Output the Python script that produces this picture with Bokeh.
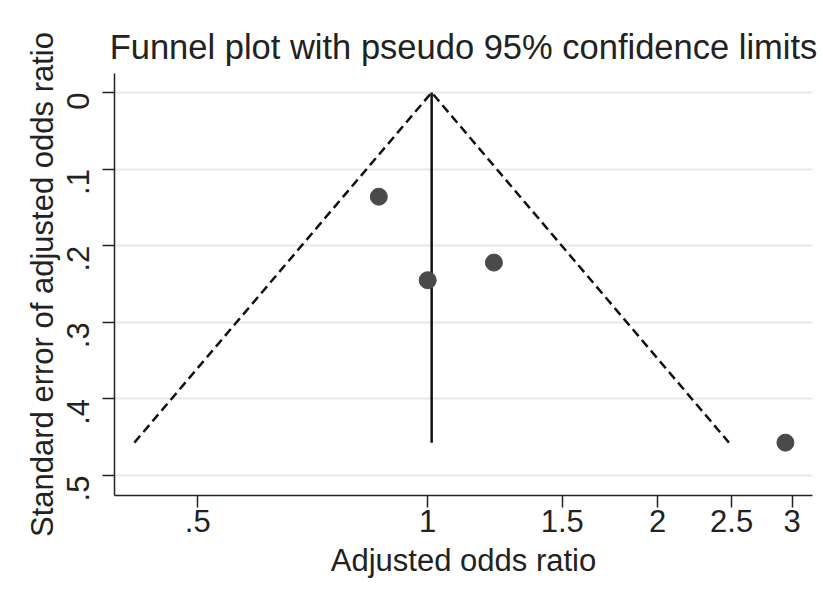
import math
from bokeh.plotting import figure
from bokeh.models import Range1d, FixedTicker
from bokeh.embed import file_html
from bokeh.resources import INLINE

# Study estimates
odds_ratio = [0.863, 1.0, 1.221, 2.94]
std_error = [0.136, 0.245, 0.222, 0.457]

# Pooled estimate line and pseudo 95% limits
pooled_or = [1.012, 1.012]
pooled_se = [0.0, 0.457]
funnel_or = [0.413, 1.012, 2.48]
funnel_se = [0.457, 0.0, 0.457]

x_ticks = [0.5, 1, 1.5, 2, 2.5, 3]
x_labels = [".5", "1", "1.5", "2", "2.5", "3"]
y_ticks = [0.0, 0.1, 0.2, 0.3, 0.4, 0.5]
y_labels = ["0", ".1", ".2", ".3", ".4", ".5"]

FONT = "Liberation Sans"
TXT = "#222222"

p = figure(width=823, height=593, output_backend="svg", toolbar_location=None,
           x_axis_type="log",
           x_range=Range1d(0.389, 3.19), y_range=Range1d(0.526, -0.0248),
           title="Funnel plot with pseudo 95% confidence limits")

p.min_border_left = 114
p.min_border_right = 11
p.min_border_top = 73
p.min_border_bottom = 98
p.background_fill_color = "white"
p.border_fill_color = "white"
p.outline_line_color = None

p.title.text_font = FONT
p.title.text_font_size = "34.5px"
p.title.text_font_style = "normal"
p.title.text_color = TXT
p.title.align = "center"
p.title.offset = 0
p.title.standoff = 15

# grid
p.xgrid.grid_line_color = None
p.ygrid.grid_line_color = "#e8e8e8"
p.ygrid.grid_line_width = 2

for ax in (p.xaxis[0], p.yaxis[0]):
    ax.axis_line_color = "#222222"
    ax.axis_line_width = 1.5
    ax.major_tick_line_color = "#222222"
    ax.major_tick_line_width = 1.5
    ax.major_tick_out = 12
    ax.major_tick_in = 0
    ax.minor_tick_line_color = None
    ax.major_label_text_font = FONT
    ax.major_label_text_font_size = "31px"
    ax.major_label_text_color = TXT
    ax.axis_label_text_font = FONT
    ax.axis_label_text_font_size = "31px"
    ax.axis_label_text_font_style = "normal"
    ax.axis_label_text_color = TXT

p.xaxis.ticker = FixedTicker(ticks=x_ticks)
p.xaxis.major_label_overrides = dict(zip(x_ticks, x_labels))
p.xaxis.axis_label = "Adjusted odds ratio"
p.xaxis.major_label_standoff = 2
p.xaxis.axis_label_standoff = 8

p.yaxis.ticker = FixedTicker(ticks=y_ticks)
p.yaxis.major_label_overrides = dict(zip(y_ticks, y_labels))
p.yaxis.major_label_orientation = math.pi / 2
p.yaxis.axis_label = "Standard error of adjusted odds ratio"
p.yaxis.major_label_standoff = 24
p.yaxis.axis_label_standoff = -6

p.line(funnel_or, funnel_se, line_color="#111111", line_width=2.5, line_dash="9 5")
p.line(pooled_or, pooled_se, line_color="#111111", line_width=2.5)
p.scatter(odds_ratio, std_error, size=17, fill_color="#4a4a4a", line_color="#4a4a4a")

open("out.html", "w").write(file_html(p, INLINE))
